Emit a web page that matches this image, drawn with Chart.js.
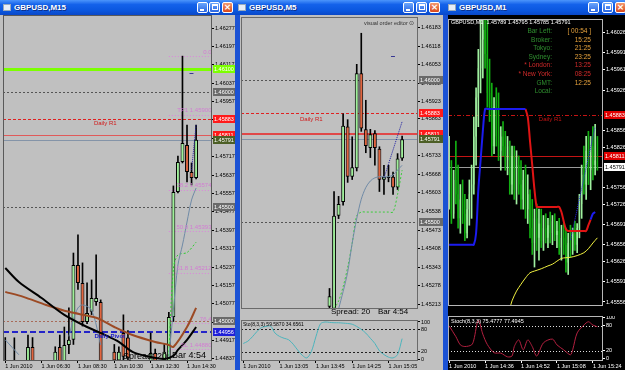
<!DOCTYPE html>
<html>
<head>
<meta charset="utf-8">
<script src="https://cdn.jsdelivr.net/npm/chart.js@4.4.1/dist/chart.umd.min.js"></script>
<style>
body { margin: 0; width: 625px; height: 370px; overflow: hidden; position: relative; background: #1b52d4; font-family: "Liberation Sans", Arial, sans-serif; }
.win { position: absolute; top: 0; height: 370px; overflow: hidden; }
.cap { position: absolute; left: 0; right: 0; top: 0; height: 15px; background: linear-gradient(#4c95fb, #1462ea 30%, #0b57df 70%, #0a48c8); }
.cap b { position: absolute; left: 14px; top: 0; line-height: 15px; color: #fff; font-size: 8px; text-shadow: 1px 1px 0 #0b2f8a; }
.cap i { position: absolute; left: 3px; top: 4px; width: 8px; height: 7px; background: #e8eef8; border: 1px solid #9ab; box-sizing: border-box; }
.btn { position: absolute; top: 2px; width: 11px; height: 11px; border: 1px solid #fff; border-radius: 2px; box-sizing: border-box; background: linear-gradient(#6aa6fc, #2a66e2); }
.btn.min::after { content: ''; position: absolute; left: 2px; top: 6px; width: 4px; height: 2px; background: #fff; }
.btn.max::after { content: ''; position: absolute; left: 2px; top: 1px; width: 6px; height: 6px; border: 1px solid #fff; border-top-width: 2px; box-sizing: border-box; }
.btn.cls { background: linear-gradient(#f29a70, #d9461c); color: #fff; font: bold 9px/9px "DejaVu Sans"; text-align: center; }
.pane { position: absolute; top: 15px; bottom: 0; }
canvas { position: absolute; }
.t { position: absolute; white-space: nowrap; line-height: 1; }
</style>
</head>
<body>
<div class="win" style="left:0;width:235px">
  <div class="pane" style="left:0;right:0;background:#c0c0c0"></div>
  <div class="cap"><i></i><b>GBPUSD,M15</b><span class="btn min" style="left:197px"></span><span class="btn max" style="left:209px"></span><span class="btn cls" style="left:222px">×</span></div>
</div>
<div class="win" style="left:235px;width:210px">
  <div class="pane" style="left:5px;right:2px;background:#c0c0c0"></div>
  <div class="cap"><i></i><b>GBPUSD,M5</b><span class="btn min" style="left:168px"></span><span class="btn max" style="left:181px"></span><span class="btn cls" style="left:194px">×</span></div>
</div>
<div class="win" style="left:445px;width:180px">
  <div class="pane" style="left:3px;right:0;background:#000"></div>
  <div class="cap"><i></i><b>GBPUSD,M1</b><span class="btn min" style="left:143px"></span><span class="btn max" style="left:157px"></span><span class="btn cls" style="left:170px">×</span></div>
</div>

<canvas id="m15" width="232" height="355" style="left:3px;top:15px"></canvas>
<canvas id="m5" width="202" height="301" style="left:241px;top:17px"></canvas>
<canvas id="m5sto" width="202" height="50" style="left:241px;top:320px"></canvas>
<canvas id="m1" width="177" height="296" style="left:448px;top:19px"></canvas>
<canvas id="m1sto" width="177" height="54" style="left:448px;top:316px"></canvas>

<div class="t" style="left:123px;top:352px;font-size:9px">Spread: 20</div>
<div class="t" style="left:172px;top:351px;font-size:9px">Bar 4:54</div>
<div class="t" style="left:331px;top:308px;font-size:8px">Spread: 20</div>
<div class="t" style="left:378px;top:308px;font-size:8px">Bar 4:54</div>
<div class="t" style="left:364px;top:21px;font-size:5.5px;color:#333">visual order editor ⊙</div>
<div class="t" style="left:243px;top:322px;font-size:5px">Sto(8,3,3) 59.5870 34.6561</div>
<div class="t" style="left:451px;top:20px;font-size:5.5px;color:#fff">GBPUSD,M1&nbsp; 1.45789 1.45795 1.45785 1.45791</div>
<div class="t" style="left:451px;top:319px;font-size:5.5px;color:#fff">Stoch(8,3,3) 75.4777 77.4945</div>
<div id="info"></div>

<script>
const gap = n => new Array(n).fill(null);

// ---------- M15 (left) ----------
const m15TickIndex = [0, 8, 16, 24, 32, 40];
const m15TickText = ['1 Jun 2010', '1 Jun 06:30', '1 Jun 08:30', '1 Jun 10:30', '1 Jun 12:30', '1 Jun 14:30'];
const m15Prices = [1.46277, 1.46197, 1.46117, 1.46037, 1.45957, 1.45877, 1.45797, 1.45717, 1.45637, 1.45557,
  1.45477, 1.45397, 1.45317, 1.45237, 1.45157, 1.45077, 1.44997, 1.44917, 1.44837];
const m15Open = [1.44810, null, 1.44815, null, null, 1.44800, 1.44889, null, null, null,
  null, 1.44800, 1.44889, 1.44800, 1.44898, 1.44920, 1.45246, 1.45168, 1.44998, 1.45042,
  1.45085, 1.45085, null, null, 1.44868, 1.44830, 1.44950, 1.44930, null, null,
  null, null, 1.44800, 1.44863, null, 1.44800, 1.44800, 1.45020, 1.45564, 1.45694,
  1.45768, 1.45651, 1.45625, null, null, null];
const m15High = [1.44930, null, 1.44929, null, null, 1.44941, 1.44930, null, null, null,
  null, 1.44890, 1.44941, 1.44976, 1.45059, 1.45298, 1.45377, 1.45255, 1.45168, 1.45181,
  1.45290, 1.45094, null, null, 1.44900, 1.44890, 1.45029, 1.44960, null, null,
  null, null, 1.44950, 1.44880, null, 1.44900, 1.45040, 1.45590, 1.45720, 1.46155,
  1.45855, 1.45690, 1.45855, null, null, null];
const m15Low = [1.44790, null, 1.44790, null, null, 1.44790, 1.44790, null, null, null,
  null, 1.44790, 1.44790, 1.44790, 1.44860, 1.44900, 1.45140, 1.44980, 1.44990, 1.45030,
  1.45070, 1.44790, null, null, 1.44800, 1.44800, 1.44833, 1.44800, null, null,
  null, null, 1.44790, 1.44800, null, 1.44790, 1.44790, 1.45000, 1.45560, 1.45690,
  1.45607, 1.45594, 1.45620, null, null, null];
const m15Close = [1.44825, null, 1.44805, null, null, 1.44889, 1.44800, null, null, null,
  null, 1.44868, 1.44800, 1.44898, 1.44920, 1.45246, 1.45168, 1.44998, 1.45037, 1.45102,
  1.45102, 1.44800, null, null, 1.44830, 1.44868, 1.44846, 1.44840, null, null,
  null, null, 1.44863, 1.44820, null, 1.44868, 1.45020, 1.45564, 1.45694, 1.45777,
  1.45651, 1.45625, 1.45791, null, null, null];
const m15MaSlow = [1.45233, null, null, 1.45172, null, null, null, null, 1.45102, null,
  null, null, null, 1.45029, null, null, null, null, 1.44976, null,
  null, null, 1.44941, null, null, 1.44911, null, null, 1.44868, null,
  null, 1.44850, null, null, null, 1.44837, null, 1.44850, 1.44876, null,
  1.44920, null, 1.44976, null, null, null];
const m15MaMid = [1.45129, null, null, null, 1.45107, null, null, null, null, 1.45072,
  null, null, null, null, 1.45042, null, null, null, null, null,
  1.45016, null, null, null, 1.44976, null, null, null, 1.44941, null,
  null, null, null, 1.44911, null, null, 1.44898, 1.44889, null, null,
  1.44976, null, 1.45059, null, null, null];
const m15MaFast = [1.44920, null, null, 1.44855, null, null, null, null, null, null,
  null, null, null, null, 1.44935, 1.45009, 1.45059, 1.45072, null, 1.45050,
  null, 1.44898, null, null, null, null, null, null, null, null,
  null, null, null, null, null, null, 1.44843, 1.45050, 1.45246, 1.45333,
  1.45433, 1.45529, 1.45581, null, null, null];
const m15Signal = [...gap(36), 1.44850, 1.45230, 1.45290, null, 1.45300, null, 1.45345, null, null, null];
const m15Trend = [...gap(41), 1.45659, 1.45855, null, null, null];
const m15Levels = [1.46100, 1.46000, 1.45883, 1.45811, 1.45791, 1.45500, 1.45000, 1.44956];
const m15FibValue = [1.46155, 1.45900, 1.45574, 1.45393, 1.45212, 1.44993, 1.44880];
const m15FibText = ['0.0', 'TP1 1.45900', '38.2 1.45574', '50.0 1.45393', '61.8 1.45212', '76.4', 'SL 1.44880'];
const m15NoteText = ['Daily R1', 'Daily Pivot', '–'];
const m15NoteIndex = [22, 23, 41];
const m15NoteValue = [1.45862, 1.44936, 1.46081];

// ---------- M5 (middle) ----------
const m5TickIndex = [0, 8, 16, 24, 32];
const m5TickText = ['1 Jun 2010', '1 Jun 13:05', '1 Jun 13:45', '1 Jun 14:25', '1 Jun 15:05'];
const m5Prices = [1.46183, 1.46118, 1.46053, 1.45988, 1.45923, 1.45863, 1.45733, 1.45668, 1.45603, 1.45538,
  1.45473, 1.45408, 1.45343, 1.45278, 1.45213];
const m5Open = [...gap(19), 1.45204, 1.45197, 1.45523, 1.45571, 1.45836, 1.45660, 1.45690, 1.46023, 1.45826, 1.45761,
  1.45812, 1.45758, 1.45649, 1.45660, 1.45660, 1.45622, 1.45724, null, null, null];
const m5High = [...gap(19), 1.45268, 1.45608, 1.45591, 1.45880, 1.45860, 1.45800, 1.46054, 1.46163, 1.45928, 1.45826,
  1.45822, 1.45765, 1.45700, 1.45700, 1.45676, 1.45741, 1.45802, null, null, null];
const m5Low = [...gap(19), 1.45190, 1.45190, 1.45513, 1.45560, 1.45640, 1.45650, 1.45680, 1.45819, 1.45744, 1.45727,
  1.45700, 1.45608, 1.45598, 1.45642, 1.45598, 1.45615, 1.45717, null, null, null];
const m5Close = [...gap(19), 1.45241, 1.45523, 1.45564, 1.45839, 1.45660, 1.45693, 1.46023, 1.45829, 1.45768, 1.45809,
  1.45761, 1.45649, 1.45660, 1.45655, 1.45622, 1.45724, 1.45791, null, null, null];
const m5MaSlow = [...gap(21), 1.45196, 1.45257, 1.45325, 1.45427, 1.45513, 1.45581, 1.45622, 1.45645, 1.45656,
  1.45660, 1.45660, 1.45660, 1.45666, 1.45683, 1.45700, null, null, null];
const m5Stop = [...gap(20), 1.45196, 1.45224, 1.45274, 1.45342, 1.45427, 1.45523, 1.45536, 1.45536, 1.45536, 1.45536,
  1.45536, 1.45536, 1.45536, 1.45536, 1.45598, 1.45683, null, null, null];
const m5Trend = [...gap(31), 1.45655, null, null, null, 1.45853, null, null, null];
const m5Sto = [42, 48, 60, 74, 85, 88, 89, 70, 61, 56,
  52, 40, 24, 10, 3, 20, 60, 95, 100, 99,
  98, 98, 97, 96, 94, 88, 80, 70, 56, 42,
  22, 12, 5, 3, 12, 55, null, null, null];
const m5Levels = [1.46000, 1.45883, 1.45811, 1.45791, 1.45500];
const m5NoteText = ['Daily R1', '–'];
const m5NoteIndex = [15, 33];
const m5NoteValue = [1.45862, 1.46084];

// ---------- M1 (right) ----------
const m1TickIndex = [0, 16, 32, 48, 64];
const m1TickText = ['1 Jun 2010', '1 Jun 14:36', '1 Jun 14:52', '1 Jun 15:08', '1 Jun 15:24'];
const m1Prices = [1.46026, 1.45991, 1.45961, 1.45926, 1.45856, 1.45826, 1.45756, 1.45726, 1.45691, 1.45656,
  1.45626, 1.45591, 1.45556];
const m1Open = [1.45744, 1.45786, 1.45710, 1.45769, 1.45744, 1.45702, 1.45735, 1.45710, 1.45676, 1.45718,
  1.45744, 1.45761, 1.45845, 1.45913, 1.45964, 1.46014, 1.46031, 1.45989, 1.45921, 1.45896,
  1.45828, 1.45896, 1.45845, 1.45820, 1.45845, 1.45828, 1.45803, 1.45828, 1.45761, 1.45811,
  1.45752, 1.45795, 1.45761, 1.45735, 1.45769, 1.45718, 1.45744, 1.45685, 1.45659, 1.45702,
  1.45668, 1.45693, 1.45663, 1.45685, 1.45668, 1.45690, 1.45676, 1.45697, 1.45673, 1.45680,
  1.45651, 1.45668, 1.45656, 1.45625, 1.45659, 1.45646, 1.45676, 1.45656, 1.45685, 1.45727,
  1.45778, 1.45761, 1.45820, 1.45786, 1.45828, 1.45795, 1.45803, null, null];
const m1High = [1.45845, 1.45803, 1.45786, 1.45837, 1.45795, 1.45761, 1.45769, 1.45744, 1.45735, 1.45769,
  1.45795, 1.45879, 1.45930, 1.45997, 1.46048, 1.46070, 1.46070, 1.46048, 1.45980, 1.45938,
  1.45913, 1.45930, 1.45921, 1.45862, 1.45871, 1.45854, 1.45845, 1.45837, 1.45828, 1.45828,
  1.45820, 1.45811, 1.45803, 1.45786, 1.45795, 1.45778, 1.45752, 1.45735, 1.45718, 1.45727,
  1.45718, 1.45718, 1.45707, 1.45710, 1.45702, 1.45713, 1.45707, 1.45710, 1.45697, 1.45702,
  1.45690, 1.45693, 1.45685, 1.45676, 1.45690, 1.45685, 1.45697, 1.45693, 1.45744, 1.45795,
  1.45828, 1.45845, 1.45854, 1.45845, 1.45862, 1.45866, 1.45845, null, null];
const m1Low = [1.45718, 1.45693, 1.45702, 1.45727, 1.45685, 1.45676, 1.45693, 1.45663, 1.45668, 1.45690,
  1.45702, 1.45744, 1.45795, 1.45862, 1.45921, 1.45947, 1.45964, 1.45896, 1.45871, 1.45811,
  1.45815, 1.45828, 1.45803, 1.45786, 1.45811, 1.45786, 1.45778, 1.45744, 1.45744, 1.45735,
  1.45727, 1.45744, 1.45718, 1.45718, 1.45702, 1.45693, 1.45668, 1.45639, 1.45617, 1.45646,
  1.45629, 1.45651, 1.45646, 1.45659, 1.45651, 1.45659, 1.45656, 1.45663, 1.45651, 1.45639,
  1.45629, 1.45639, 1.45608, 1.45604, 1.45634, 1.45639, 1.45646, 1.45642, 1.45668, 1.45702,
  1.45744, 1.45735, 1.45761, 1.45752, 1.45769, 1.45778, 1.45786, null, null];
const m1Close = [1.45786, 1.45710, 1.45769, 1.45744, 1.45702, 1.45735, 1.45710, 1.45676, 1.45718, 1.45744,
  1.45761, 1.45845, 1.45913, 1.45964, 1.46014, 1.46031, 1.45989, 1.45921, 1.45896, 1.45828,
  1.45896, 1.45845, 1.45820, 1.45845, 1.45828, 1.45803, 1.45828, 1.45761, 1.45811, 1.45752,
  1.45795, 1.45761, 1.45735, 1.45769, 1.45718, 1.45744, 1.45685, 1.45659, 1.45702, 1.45668,
  1.45693, 1.45663, 1.45685, 1.45668, 1.45690, 1.45676, 1.45697, 1.45673, 1.45680, 1.45651,
  1.45668, 1.45656, 1.45625, 1.45659, 1.45646, 1.45676, 1.45656, 1.45685, 1.45727, 1.45778,
  1.45761, 1.45820, 1.45786, 1.45828, 1.45795, 1.45803, 1.45791, null, null];
const m1BandUp = [1.45656, 1.45656, 1.45656, 1.45656, 1.45656, 1.45656, 1.45656, 1.45656, 1.45656, 1.45656,
  1.45656, 1.45656, 1.45676, 1.45752, 1.45803, 1.45854, 1.45893, 1.45893, 1.45893, 1.45893,
  1.45893, 1.45893, 1.45893, 1.45893, 1.45893, 1.45893, 1.45893, 1.45893, 1.45893, 1.45893,
  1.45893, 1.45893, 1.45893, 1.45893, 1.45893, ...gap(28), 1.45700, 1.45710, 1.45713, null, null, null];
const m1BandDown = [...gap(34), 1.45893, 1.45879, 1.45837, 1.45795, 1.45752, 1.45722,
  1.45722, 1.45722, 1.45722, 1.45722, 1.45722, 1.45722, 1.45722, 1.45722, 1.45722, 1.45722,
  1.45713, 1.45697, 1.45683, 1.45680, 1.45680, 1.45680, 1.45680, 1.45680, 1.45680, 1.45680,
  1.45680, 1.45680, 1.45690, 1.45700, null, null, null, null, null];
const m1MaSlow = [...gap(27), 1.45544, 1.45558, null, 1.45575, null, 1.45587, null, 1.45598, null,
  1.45607, null, 1.45610, null, null, 1.45614, null, null, 1.45619, null,
  1.45622, null, null, null, 1.45632, null, null, null, 1.45634, null,
  null, 1.45637, null, null, 1.45642, null, 1.45649, null, 1.45659, null,
  1.45668, null, null];
const m1Trend = [...gap(54), 1.45664, ...gap(10), 1.45862, null, null, null];
const m1Sto = [80, null, null, 54, null, 34, null, 30, null, null,
  34, 46, null, 94, null, 60, null, 35, null, null,
  15, null, null, 14, null, null, 5, null, 7, 30,
  null, 46, null, 22, null, 46, null, 30, null, 7,
  null, null, 39, null, null, null, 48, null, 34, null,
  null, 22, null, null, 10, 22, null, 63, null, null,
  82, null, 90, null, 82, null, 78, null, null];
const m1Levels = [1.45883, 1.45811, 1.45791];
const m1NoteText = ['Daily R1'];
const m1NoteIndex = [45];
const m1NoteValue = [1.45874];

const stoTicks = [100, 80, 20, 0];
const stoLevels = [80, 20];

const infoNames = ['Bar Left:', 'Broker:', 'Tokyo:', 'Sydney:', '* London:', '* New York:', 'GMT:', 'Local:'];
const infoTimes = ['[ 00:54 ]', '15:25', '21:25', '23:25', '13:25', '08:25', '12:25', ''];
const infoHot = [false, false, false, false, true, true, false, false];

// ---------- helpers ----------
Chart.defaults.font.family = '"Liberation Sans", Arial, sans-serif';
Chart.defaults.font.size = 5.5;
Chart.defaults.animation = false;
Chart.defaults.events = [];
Chart.defaults.plugins.legend.display = false;
Chart.defaults.plugins.tooltip.enabled = false;

const mtOverlay = {
    id: 'mt',
    beforeDatasetsDraw(chart, args, opts) {
        if (!opts.levels) return;
        const {ctx, chartArea: a} = chart;
        const x = chart.scales.x, y = chart.scales.y;
        ctx.save();
        ctx.beginPath();
        ctx.rect(a.left, a.top, a.width, a.height);
        ctx.clip();
        opts.levels.forEach(l => {
            const py = Math.round(y.getPixelForValue(l.value)) + (l.width % 2 ? 0.5 : 0);
            const x0 = l.from != null ? x.getPixelForValue(l.from) : a.left;
            ctx.strokeStyle = l.color;
            ctx.lineWidth = l.width;
            ctx.setLineDash(l.dash);
            ctx.beginPath();
            ctx.moveTo(x0, py);
            ctx.lineTo(a.right, py);
            ctx.stroke();
        });
        ctx.restore();
    },
    afterDraw(chart, args, opts) {
        if (!opts.frame) return;
        const {ctx, chartArea: a} = chart;
        const x = chart.scales.x, y = chart.scales.y;
        ctx.save();
        ctx.setLineDash([]);
        (opts.notes || []).forEach(n => {
            ctx.font = n.font;
            ctx.fillStyle = n.color;
            ctx.textAlign = n.align;
            ctx.textBaseline = n.base;
            ctx.fillText(n.text, x.getPixelForValue(n.index), y.getPixelForValue(n.value) + (n.dy || 0));
        });
        ctx.strokeStyle = opts.frame;
        ctx.lineWidth = 1;
        ctx.strokeRect(a.left + 0.5, a.top + 0.5, a.width - 1, a.height - 1);
        ctx.font = '5.5px "Liberation Sans"';
        ctx.textAlign = 'left';
        ctx.textBaseline = 'middle';
        (opts.levels || []).forEach(l => {
            if (!l.box) return;
            const py = Math.round(y.getPixelForValue(l.value));
            ctx.fillStyle = l.box;
            ctx.fillRect(a.right + 1, py - 4, chart.width - a.right - 1, 8);
            ctx.fillStyle = l.boxText;
            ctx.fillText(l.value.toFixed(5), a.right + 2, py + 0.5);
        });
        ctx.restore();
    }
};
Chart.register(mtOverlay);

function axisLabels(n, idx, text) {
    const out = [];
    for (let i = 0; i < n; i++) out.push('');
    idx.forEach((p, k) => { out[p] = text[k]; });
    return out;
}

function candleSets(open, high, low, close, look) {
    const bodies = [], wicks = [], bodyColors = [], wickColors = [];
    for (let i = 0; i < open.length; i++) {
        if (open[i] == null) {
            bodies.push(null); wicks.push(null); bodyColors.push(null); wickColors.push(null);
            continue;
        }
        const up = close[i] >= open[i];
        bodies.push([open[i], close[i]]);
        wicks.push([low[i], high[i]]);
        bodyColors.push(up ? look.up : look.down);
        wickColors.push(up ? look.wickUp : look.wickDown);
    }
    return [
        {type: 'bar', data: wicks, backgroundColor: wickColors, barThickness: 1, grouped: false, order: 3},
        {type: 'bar', data: bodies, backgroundColor: bodyColors, borderColor: look.border, borderWidth: look.borderWidth,
            borderSkipped: false, barPercentage: look.width, categoryPercentage: 1, grouped: false, order: 2}
    ];
}

// cut a sparse series into runs so far-apart pieces are not joined
function runs(data, maxGap) {
    const out = [];
    let cur = null, last = 0;
    data.forEach((v, i) => {
        if (v == null) return;
        if (cur === null || i - last > maxGap) {
            cur = gap(data.length);
            out.push(cur);
        }
        cur[i] = v;
        last = i;
    });
    return out;
}

function lineSets(data, color, width, dash, maxGap) {
    return runs(data, maxGap || 99).map(d => ({
        type: 'line', data: d, borderColor: color, borderWidth: width, borderDash: dash || [],
        pointRadius: 0, tension: 0.3, spanGaps: true, fill: false, order: 1
    }));
}

function scales(p) {
    return {
        x: {
            type: 'category',
            display: p.showTime,
            offset: true,
            grid: {display: true, drawOnChartArea: false, drawTicks: true, tickLength: 2, offset: false,
                color: c => p.labels[c.index] ? p.ink : 'rgba(0,0,0,0)'},
            border: {display: false},
            ticks: {autoSkip: false, maxRotation: 0, minRotation: 0, align: 'start', padding: 0, color: p.ink},
            afterFit: s => { s.height = 9; s.paddingLeft = 0; s.paddingRight = 0; }
        },
        y: {
            position: 'right',
            min: p.min,
            max: p.max,
            grid: {display: true, drawOnChartArea: false, drawTicks: true, tickLength: 2, color: p.ink},
            border: {display: false},
            ticks: {autoSkip: false, padding: 1, color: p.ink, callback: v => p.digits ? v.toFixed(p.digits) : String(v)},
            afterBuildTicks: s => { s.ticks = p.ticks.map(v => ({value: v})); },
            afterFit: s => { s.width = p.axis; s.paddingTop = 0; s.paddingBottom = 0; }
        }
    };
}

function levelList(values, looks) {
    return values.map((v, i) => Object.assign({value: v}, looks[i]));
}

function noteList(text, index, value, looks) {
    return text.map((t, i) => Object.assign({text: t, index: index[i], value: value[i]}, looks[i]));
}

const grayLook = {up: '#9ff09a', down: '#e2653f', wickUp: '#000', wickDown: '#000', border: '#000', borderWidth: 1, width: 0.85};
const darkLook = {up: '#a0f0a0', down: '#12b012', wickUp: '#a0f0a0', wickDown: '#12b012', border: 'rgba(0,0,0,0)', borderWidth: 0, width: 0.5};

const roundLine = {color: '#555', width: 1, dash: [2, 2], box: '#6a6a6a', boxText: '#fff'};
const r1Line = {color: '#e02020', width: 1, dash: [3, 2], box: '#ff1a1a', boxText: '#fff'};
const r1Solid = {color: '#e04848', width: 2, dash: [], box: '#ff1a1a', boxText: '#fff'};
const bidLine = {color: '#8494a8', width: 1, dash: [], box: '#4d5f26', boxText: '#fff'};

// ---------- left chart ----------
const m15Axis = axisLabels(46, m15TickIndex, m15TickText);
const fibLook = {color: '#dc86dc', width: 1, dash: [1, 2], from: 36};
new Chart(document.getElementById('m15'), {
    type: 'bar',
    data: {
        labels: m15Axis,
        datasets: [
            ...candleSets(m15Open, m15High, m15Low, m15Close, grayLook),
            ...lineSets(m15MaSlow, '#000', 2),
            ...lineSets(m15MaMid, '#9c4a24', 2),
            ...lineSets(m15MaFast, '#6f8aa6', 1, [], 6),
            ...lineSets(m15Signal, '#2ccc2c', 1, [2, 2]),
            ...lineSets(m15Trend, '#1a1aa0', 1, [1, 1])
        ]
    },
    options: {
        responsive: false,
        layout: {padding: 0},
        scales: scales({labels: m15Axis, showTime: true, ink: '#000', min: 1.44828, max: 1.46334, ticks: m15Prices, digits: 5, axis: 23}),
        plugins: {
            mt: {
                frame: '#5a5a5a',
                levels: [
                    ...m15FibValue.map(v => Object.assign({value: v}, fibLook)),
                    ...levelList(m15Levels, [
                        {color: '#7cff00', width: 3, dash: [], box: '#7cff00', boxText: '#fff'},
                        roundLine, r1Line,
                        {color: '#e05a5a', width: 1, dash: [], box: '#ff1a1a', boxText: '#fff'},
                        bidLine, roundLine,
                        {color: '#a86a58', width: 1, dash: [2, 2], box: '#6a6a6a', boxText: '#fff'},
                        {color: '#2424c8', width: 2, dash: [6, 3], box: '#2020d8', boxText: '#fff'}
                    ])
                ],
                notes: [
                    ...noteList(m15NoteText, m15NoteIndex, m15NoteValue, [
                        {color: '#d01818', font: '6px "Liberation Sans"', align: 'center', base: 'middle'},
                        {color: '#1a1ac8', font: 'bold 6px "Liberation Sans"', align: 'center', base: 'middle'},
                        {color: '#000080', font: 'bold 8px "Liberation Sans"', align: 'center', base: 'middle'}
                    ]),
                    ...m15FibText.map((t, i) => ({text: t, index: 45.4, value: m15FibValue[i], dy: -1,
                        color: '#d27cd2', font: '6px "Liberation Sans"', align: 'right', base: 'bottom'}))
                ]
            }
        }
    }
});

// ---------- middle chart ----------
const m5Axis = axisLabels(39, m5TickIndex, m5TickText);
new Chart(document.getElementById('m5'), {
    type: 'bar',
    data: {
        labels: m5Axis,
        datasets: [
            ...candleSets(m5Open, m5High, m5Low, m5Close, grayLook),
            ...lineSets(m5MaSlow, '#6f8aa6', 1),
            ...lineSets(m5Stop, '#3acc3a', 1, [2, 2]),
            ...lineSets(m5Trend, '#1a1aa0', 1, [1, 1])
        ]
    },
    options: {
        responsive: false,
        layout: {padding: 0},
        scales: scales({labels: m5Axis, showTime: false, ink: '#000', min: 1.45196, max: 1.46220, ticks: m5Prices, digits: 5, axis: 25}),
        plugins: {
            mt: {
                frame: '#6a6a6a',
                levels: levelList(m5Levels, [roundLine, r1Line, r1Solid, bidLine, roundLine]),
                notes: noteList(m5NoteText, m5NoteIndex, m5NoteValue, [
                    {color: '#d01818', font: '6px "Liberation Sans"', align: 'center', base: 'middle'},
                    {color: '#000080', font: 'bold 8px "Liberation Sans"', align: 'center', base: 'middle'}
                ])
            }
        }
    }
});

new Chart(document.getElementById('m5sto'), {
    type: 'line',
    data: {
        labels: m5Axis,
        datasets: lineSets(m5Sto, '#4cb4bc', 1)
    },
    options: {
        responsive: false,
        layout: {padding: 0},
        scales: scales({labels: m5Axis, showTime: true, ink: '#000', min: -5.4, max: 105.4, ticks: stoTicks, digits: 0, axis: 25}),
        plugins: {
            mt: {
                frame: '#6a6a6a',
                levels: stoLevels.map(v => ({value: v, color: '#222', width: 1, dash: [2, 2]}))
            }
        }
    }
});

// ---------- right chart ----------
const m1Axis = axisLabels(69, m1TickIndex, m1TickText);
new Chart(document.getElementById('m1'), {
    type: 'bar',
    data: {
        labels: m1Axis,
        datasets: [
            ...candleSets(m1Open, m1High, m1Low, m1Close, darkLook),
            ...lineSets(m1BandUp, '#1c1cf0', 2, [], 6),
            ...lineSets(m1BandDown, '#e01414', 2),
            ...lineSets(m1MaSlow, '#f0f040', 1),
            ...lineSets(m1Trend, '#2a2af0', 1, [1, 1])
        ]
    },
    options: {
        responsive: false,
        layout: {padding: 0},
        scales: scales({labels: m1Axis, showTime: false, ink: '#fff', min: 1.45549, max: 1.46050, ticks: m1Prices, digits: 5, axis: 22}),
        plugins: {
            mt: {
                frame: '#b8b8b8',
                levels: levelList(m1Levels, [
                    {color: '#c41414', width: 1, dash: [4, 2, 1, 2], box: '#e00000', boxText: '#fff'},
                    {color: '#c41414', width: 1, dash: [], box: '#e00000', boxText: '#fff'},
                    {color: '#9a9a9a', width: 1, dash: [], box: '#fff', boxText: '#000'}
                ]),
                notes: noteList(m1NoteText, m1NoteIndex, m1NoteValue, [
                    {color: '#c41414', font: '6px "Liberation Sans"', align: 'center', base: 'middle'}
                ])
            }
        }
    }
});

new Chart(document.getElementById('m1sto'), {
    type: 'line',
    data: {
        labels: m1Axis,
        datasets: lineSets(m1Sto, '#b42040', 1)
    },
    options: {
        responsive: false,
        layout: {padding: 0},
        scales: scales({labels: m1Axis, showTime: true, ink: '#fff', min: -5.1, max: 104, ticks: stoTicks, digits: 0, axis: 22}),
        plugins: {
            mt: {
                frame: '#b8b8b8',
                levels: stoLevels.map(v => ({value: v, color: '#ddd', width: 1, dash: [1, 2]}))
            }
        }
    }
});

// info panel on the M1 window
const info = document.getElementById('info');
infoNames.forEach((name, i) => {
    const top = 28 + i * 8.6;
    const nameColor = infoHot[i] ? '#d02a2a' : '#2f8f2f';
    const timeColor = infoHot[i] ? '#d02a2a' : '#e6a23c';
    info.innerHTML += `<div class="t" style="left:490px;width:62px;text-align:right;top:${top}px;font-size:6.5px;color:${nameColor}">${name}</div>`;
    info.innerHTML += `<div class="t" style="left:555px;width:36px;text-align:right;top:${top}px;font-size:6.5px;color:${timeColor}">${infoTimes[i]}</div>`;
});
</script>
</body>
</html>
